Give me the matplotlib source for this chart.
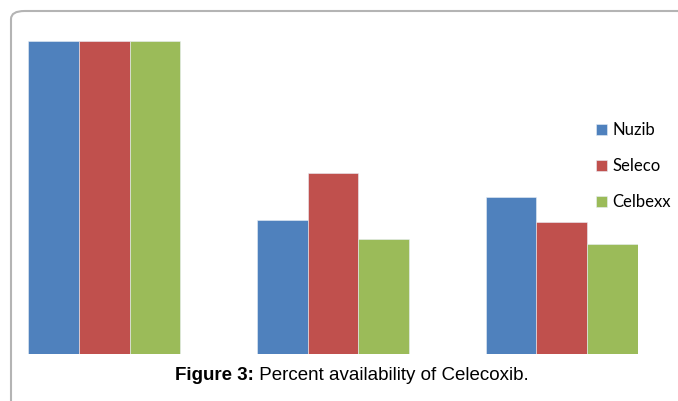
import matplotlib
matplotlib.use("Agg")
import numpy as np
import matplotlib.pyplot as plt
from matplotlib.patches import FancyBboxPatch

# values (percent availability)
groups = ["1", "2", "3"]
nuzib = [100, 42.8, 50.2]
seleco = [100, 57.8, 42.3]
celbexx = [100, 36.7, 35.0]
series_names = ["Nuzib", "Seleco", "Celbexx"]
colors = ["#4F81BD", "#C0504D", "#9BBB59"]

W, H = 678, 401
fig = plt.figure(figsize=(W/100, H/100), dpi=100)

# rounded grey frame running off the right and bottom edges
frame = FancyBboxPatch((11/W, -0.1), 1.2, (H-11)/H + 0.1,
                       boxstyle="round,pad=0,rounding_size=0.02",
                       transform=fig.transFigure, fill=False,
                       edgecolor="#b4b4b4", linewidth=1.5)
fig.patches.append(frame)

ax = fig.add_axes([28/W, (H-354)/H, 610/W, 313/H])
w = 0.222
x = np.arange(len(groups))
for i, (vals, name, c) in enumerate(zip([nuzib, seleco, celbexx], series_names, colors)):
    ax.bar(x + (i-1)*w, vals, width=w, color=c, label=name,
           edgecolor="#e8eef6", linewidth=0.4)
ax.set_xlim(-1.5*w, 2 + 1.5*w)
ax.set_ylim(0, 100)
ax.axis("off")

handles, labels = ax.get_legend_handles_labels()
fig.legend(handles, labels, loc="center left", bbox_to_anchor=(588/W, 1 - 166/H),
           frameon=False, handlelength=0.65, handleheight=0.65,
           handletextpad=0.3, labelspacing=1.2, borderpad=0,
           prop={"family": "Lato", "size": 12})

t1 = fig.text(175/W, 1 - 375/H, "Figure 3:", fontsize=13.5, fontweight="bold",
              family="Liberation Sans", va="center", ha="left")
ax.annotate(" Percent availability of Celecoxib.", xy=(1, 0.5), xycoords=t1,
            va="center", ha="left", fontsize=13.5, family="Liberation Sans",
            annotation_clip=False)

fig.savefig("out.png", dpi=100)
